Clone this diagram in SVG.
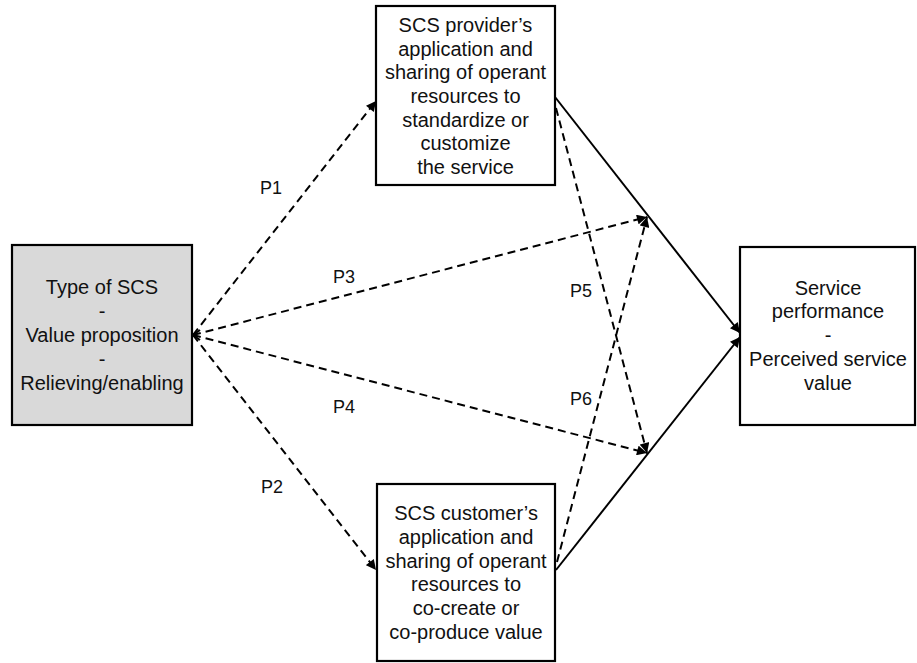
<svg xmlns="http://www.w3.org/2000/svg" width="917" height="663" viewBox="0 0 917 663">
<style>
.box{fill:#fff;stroke:#000;stroke-width:2.2}
.grey{fill:#d9d9d9}
.t{font-family:"Liberation Sans",Arial,sans-serif;font-size:20px;fill:#111;text-anchor:middle}
.lbl{font-family:"Liberation Sans",Arial,sans-serif;font-size:18px;fill:#111;text-anchor:middle}
.dash{fill:none;stroke:#000;stroke-width:2;stroke-dasharray:8,5}
.solid{fill:none;stroke:#000;stroke-width:2}
</style>
<defs>
<marker id="ah" viewBox="0 0 10 10" refX="10" refY="5" markerWidth="11" markerHeight="10" orient="auto" markerUnits="userSpaceOnUse">
<path d="M0,0 L10,5 L0,10 z" fill="#000"/>
</marker>
</defs>
<g id="connectors">
<path class="dash" d="M193,335 L376,101" marker-end="url(#ah)"/>
<path class="dash" d="M193,335 L376,570" marker-end="url(#ah)"/>
<path class="dash" d="M193,335 L647,217" marker-end="url(#ah)"/>
<path class="dash" d="M193,335 L647,453" marker-end="url(#ah)"/>
<path class="dash" d="M556,108 L647,453" marker-end="url(#ah)"/>
<path class="dash" d="M557,562 L647,217" marker-end="url(#ah)"/>
<path class="solid" d="M555,97 L740,333" marker-end="url(#ah)"/>
<path class="solid" d="M556,570 L740,337" marker-end="url(#ah)"/>
<path class="solid" d="M200,330 L193,335 L200,340"/>
<text class="lbl" x="271" y="194">P1</text>
<text class="lbl" x="272" y="493">P2</text>
<text class="lbl" x="344" y="283">P3</text>
<text class="lbl" x="344" y="413">P4</text>
<text class="lbl" x="581" y="297">P5</text>
<text class="lbl" x="581" y="405">P6</text>
</g>
<g id="type-of-scs">
<rect class="box grey" x="12" y="245" width="180" height="180"/>
<text class="t" x="102" y="294">Type of SCS</text>
<text class="t" x="102" y="318">-</text>
<text class="t" x="102" y="342">Value proposition</text>
<text class="t" x="102" y="366">-</text>
<text class="t" x="102" y="390">Relieving/enabling</text>
</g>
<g id="provider">
<rect class="box" x="376" y="6" width="179" height="179"/>
<text class="t" x="465.5" y="32">SCS provider’s</text>
<text class="t" x="465.5" y="55.7">application and</text>
<text class="t" x="465.5" y="79.3">sharing of operant</text>
<text class="t" x="465.5" y="103">resources to</text>
<text class="t" x="465.5" y="126.7">standardize or</text>
<text class="t" x="465.5" y="150.3">customize</text>
<text class="t" x="465.5" y="174">the service</text>
</g>
<g id="customer">
<rect class="box" x="377" y="484" width="178" height="177"/>
<text class="t" x="466" y="520">SCS customer’s</text>
<text class="t" x="466" y="543.8">application and</text>
<text class="t" x="466" y="567.6">sharing of operant</text>
<text class="t" x="466" y="591.4">resources to</text>
<text class="t" x="466" y="615.2">co-create or</text>
<text class="t" x="466" y="639">co-produce value</text>
</g>
<g id="performance">
<rect class="box" x="740" y="247" width="175" height="178"/>
<text class="t" x="828" y="294.5">Service</text>
<text class="t" x="828" y="318">performance</text>
<text class="t" x="828" y="342">-</text>
<text class="t" x="828" y="366">Perceived service</text>
<text class="t" x="828" y="390">value</text>
</g>
</svg>
